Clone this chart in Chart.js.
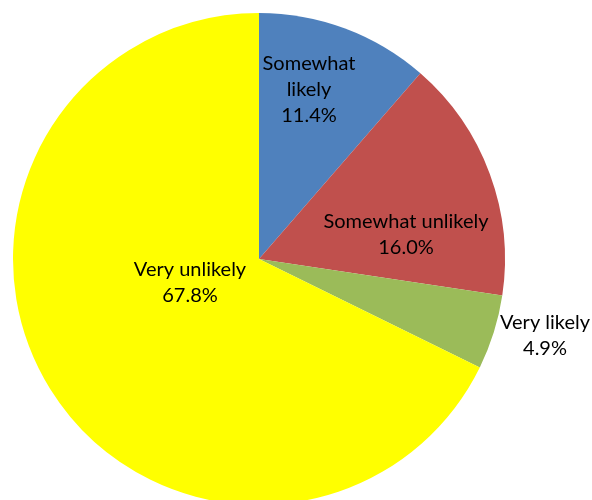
<!DOCTYPE html>
<html>
<head>
<meta charset="utf-8">
<script src="https://cdn.jsdelivr.net/npm/chart.js@4/dist/chart.umd.min.js"></script>
<style>
  html,body{margin:0;padding:0;background:#fff;overflow:hidden;width:592px;height:500px;}
  #wrap{position:absolute;left:0;top:0;width:592px;height:518px;}
</style>
</head>
<body>
<div id="wrap"><canvas id="pieChart"></canvas></div>
<script>
// DATA
const categories=['Somewhat likely','Somewhat unlikely','Very likely','Very unlikely'];
const shares=[11.4,16.0,4.9,67.8];
const sliceColors=['#4F81BD','#C0504D','#9BBB59','#FFFF00'];

// label text lines per slice (name wraps like in the original)
const labelLines=[['Somewhat','likely'],['Somewhat unlikely'],['Very likely'],['Very unlikely']];
// label anchor offsets from pie centre (px)
const labelOffset=[[50,-169],[147,-24],[286,77],[-69,24]];

const labelPlugin={
  id:'sliceLabels',
  afterDraw(chart){
    const ctx=chart.ctx;
    const arc=chart.getDatasetMeta(0).data[0];
    const cx=arc.x, cy=arc.y;
    ctx.save();
    ctx.font='20px Lato';
    ctx.fillStyle='#000';
    ctx.textAlign='center';
    ctx.textBaseline='middle';
    const lh=26;
    shares.forEach((v,i)=>{
      const lines=labelLines[i].concat([v.toFixed(1)+'%']);
      const x=cx+labelOffset[i][0];
      const y0=cy+labelOffset[i][1]-(lines.length-1)*lh/2;
      lines.forEach((t,j)=>ctx.fillText(t,x,y0+j*lh));
    });
    ctx.restore();
  }
};

new Chart(document.getElementById('pieChart').getContext('2d'),{
  type:'pie',
  data:{labels:categories,datasets:[{data:shares,backgroundColor:sliceColors,borderWidth:0}]},
  options:{
    responsive:true,
    maintainAspectRatio:false,
    animation:false,
    layout:{padding:{left:13,top:13,right:87,bottom:13}},
    plugins:{legend:{display:false},tooltip:{enabled:false}}
  },
  plugins:[labelPlugin]
});
</script>
</body>
</html>
